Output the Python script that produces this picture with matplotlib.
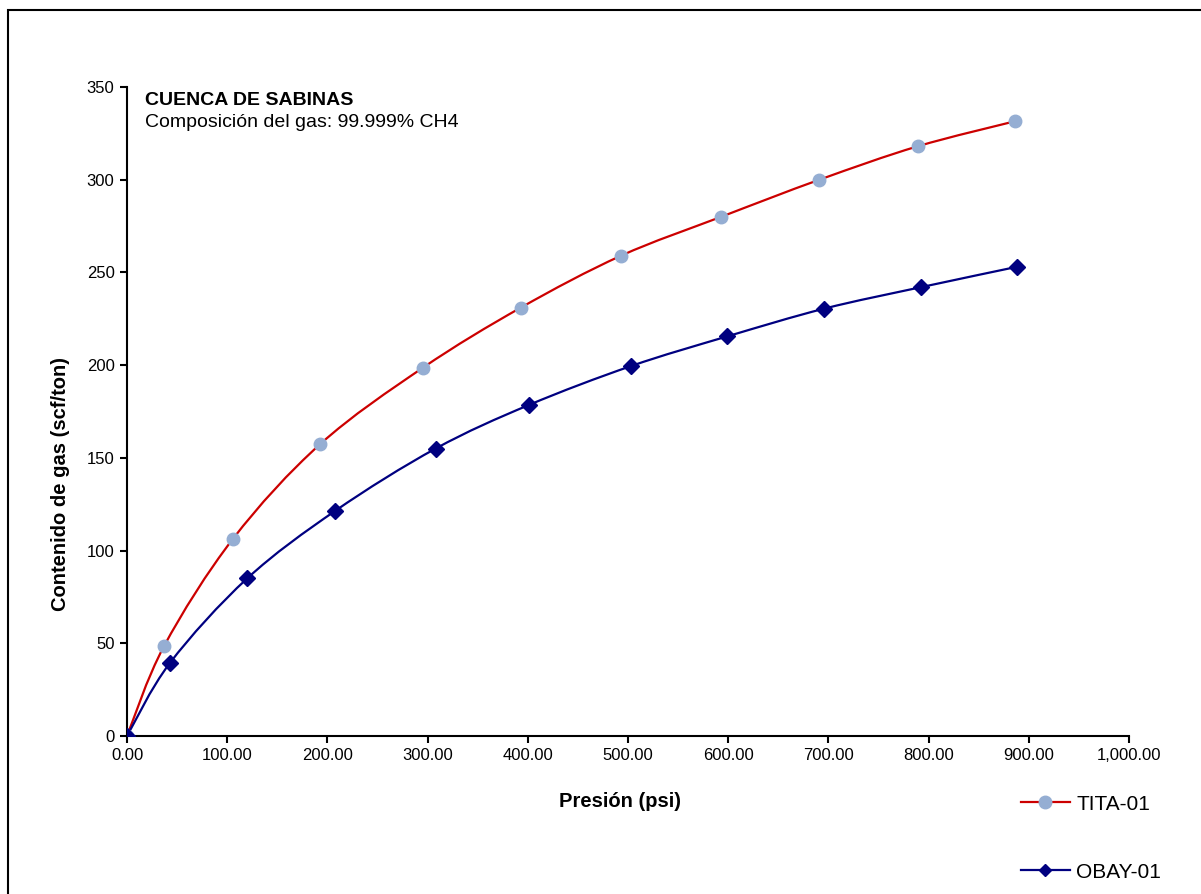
import numpy as np
import matplotlib
matplotlib.use("Agg")
import matplotlib.pyplot as plt
from matplotlib.path import Path
from matplotlib.patches import PathPatch, Rectangle
from matplotlib.lines import Line2D
from matplotlib.ticker import FuncFormatter

plt.rcParams["font.family"] = ["Liberation Sans", "DejaVu Sans"]

# data
tita_p = [0, 37, 106, 193, 295, 393, 493, 593, 691, 789, 886]
tita_gas = [0, 48.5, 106.5, 157.5, 198.5, 231, 259, 280, 300, 318, 331.5]
obay_p = [0, 43, 120, 208, 308, 401, 503, 599, 696, 792, 888]
obay_gas = [0, 39.5, 85, 121.5, 155, 178.5, 199.5, 215.5, 230.5, 242, 253]

red = "#cc0000"
navy = "#000080"
dot_col = "#95aed3"


def smooth_path(xs, ys):
    # Catmull-Rom style bezier through the points (like Excel's smoothed line)
    pts = np.column_stack([xs, ys]).astype(float)
    n = len(pts)
    verts = [pts[0]]
    codes = [Path.MOVETO]
    for i in range(n - 1):
        p0 = pts[i - 1] if i > 0 else pts[i]
        p1 = pts[i]
        p2 = pts[i + 1]
        p3 = pts[i + 2] if i + 2 < n else pts[i + 1]
        c1 = p1 + (p2 - p0) / 6.0
        c2 = p2 - (p3 - p1) / 6.0
        verts += [c1, c2, p2]
        codes += [Path.CURVE4] * 3
    return Path(verts, codes)


fig = plt.figure(figsize=(12.01, 8.94), dpi=100)
ax = fig.add_axes([127 / 1201, 1 - 736 / 894, (1129 - 127) / 1201, (736 - 87) / 894])

ax.add_patch(PathPatch(smooth_path(tita_p, tita_gas), fill=False, edgecolor=red, lw=1.6, zorder=2))
ax.add_patch(PathPatch(smooth_path(obay_p, obay_gas), fill=False, edgecolor=navy, lw=1.6, zorder=2))
ax.plot(tita_p, tita_gas, ls="none", marker="o", ms=9, color=dot_col, mec=dot_col, zorder=3)
ax.plot(obay_p, obay_gas, ls="none", marker="D", ms=8, color=navy, mec=navy, zorder=3)

ax.set_xlim(0, 1000)
ax.set_ylim(0, 350)
ax.set_xticks(np.arange(0, 1001, 100))
ax.set_yticks(np.arange(0, 351, 50))
ax.xaxis.set_major_formatter(FuncFormatter(lambda v, p: f"{v:,.2f}"))
ax.tick_params(direction="out", length=5, width=1.5, labelsize=12, pad=4)
for s in ["top", "right"]:
    ax.spines[s].set_visible(False)
for s in ["left", "bottom"]:
    ax.spines[s].set_linewidth(1.5)

ax.set_xlabel("Presión (psi)", fontsize=14.5, fontweight="bold")
ax.set_ylabel("Contenido de gas (scf/ton)", fontsize=14.5, fontweight="bold")
ax.xaxis.set_label_coords(0.492, -0.086)
ax.yaxis.set_label_coords(-0.057, 0.389)

fig.text(145 / 1201, 1 - 92 / 894, "CUENCA DE SABINAS", fontsize=14, fontweight="bold", va="top")
fig.text(145 / 1201, 1 - 114 / 894, "Composición del gas: 99.999% CH4", fontsize=14, va="top")

handles = [
    Line2D([], [], color=red, lw=1.6, marker="o", ms=9, mfc=dot_col, mec=dot_col),
    Line2D([], [], color=navy, lw=1.6, marker="D", ms=6, mfc=navy, mec=navy),
]
fig.legend(handles, ["TITA-01", "OBAY-01"], loc="upper left", bbox_to_anchor=(1002 / 1201, 1 - 776 / 894),
           frameon=False, fontsize=15, labelspacing=2.35, handlelength=2.36, handletextpad=0.3)

fig.add_artist(Rectangle((8 / 1201, -0.05), 1.2, 1.05 - 10 / 894, transform=fig.transFigure,
                         fill=False, edgecolor="black", lw=1.5))

fig.savefig("out.png", dpi=100)
